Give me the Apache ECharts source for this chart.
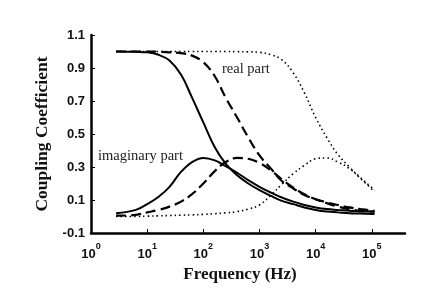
<!DOCTYPE html>
<html>
<head>
<meta charset="utf-8">
<script src="https://cdn.jsdelivr.net/npm/echarts@6/dist/echarts.min.js"></script>
<style>html,body{margin:0;padding:0;background:#fff}#c{width:436px;height:292px}</style>
</head>
<body>
<div id="c"></div>
<script>
// Frequencies (Hz)
var freq = [2.8, 6.3, 10, 16, 25, 40, 63, 100, 160, 250, 400, 630, 1000, 1600, 2500, 4000, 6300, 10000, 16000, 25000, 40000, 63000, 112000];
// Solid pair
var solidReal = [1.0, 0.998, 0.995, 0.98, 0.945, 0.86, 0.72, 0.57, 0.42, 0.32, 0.25, 0.2, 0.16, 0.125, 0.095, 0.075, 0.055, 0.04, 0.03, 0.025, 0.02, 0.018, 0.015];
var solidImag = [0.02, 0.04, 0.075, 0.12, 0.18, 0.27, 0.33, 0.355, 0.34, 0.305, 0.265, 0.22, 0.18, 0.145, 0.115, 0.09, 0.07, 0.055, 0.045, 0.04, 0.035, 0.03, 0.03];
// Dashed pair
var dashedReal = [1.0, 1.0, 1.0, 0.998, 0.995, 0.99, 0.975, 0.935, 0.85, 0.72, 0.6, 0.48, 0.37, 0.29, 0.215, 0.17, 0.13, 0.105, 0.085, 0.07, 0.055, 0.045, 0.035];
var dashedImag = [0.005, 0.01, 0.025, 0.04, 0.06, 0.09, 0.135, 0.2, 0.275, 0.33, 0.355, 0.35, 0.325, 0.28, 0.225, 0.175, 0.135, 0.105, 0.08, 0.06, 0.045, 0.035, 0.03];
// Dotted pair
var dottedReal = [1.0, 1.0, 1.0, 1.0, 1.0, 1.0, 1.0, 1.0, 1.0, 1.0, 0.999, 0.998, 0.995, 0.98, 0.95, 0.87, 0.75, 0.6, 0.475, 0.375, 0.3, 0.235, 0.16];
var dottedImag = [0.0, 0.0, 0.002, 0.004, 0.006, 0.008, 0.01, 0.013, 0.017, 0.022, 0.03, 0.045, 0.07, 0.13, 0.195, 0.26, 0.31, 0.35, 0.355, 0.33, 0.29, 0.23, 0.15];
// Tick values
var xTicks = [1, 10, 100, 1000, 10000, 100000];
var yTicks = [-0.1, 0.1, 0.3, 0.5, 0.7, 0.9, 1.1];

function pairs(ys){ return freq.map(function(f,i){ return [f, ys[i]]; }); }

var chart = echarts.init(document.getElementById('c'), null, {renderer:'canvas'});
var lineSolid = {color:'#000', width:2, type:'solid'};
var lineDashed = {color:'#000', width:2.2, type:[10,5]};
var lineDotted = {color:'#000', width:1.6, type:[1.5,3]};
function mk(name, ys, ls){
  return {name:name, type:'line', data:pairs(ys), smooth:0.4, showSymbol:false, symbol:'none', lineStyle:ls, animation:false, z:3};
}
chart.setOption({
  animation:false,
  grid:{left:91, right:31, top:35, bottom:59},
  xAxis:{
    type:'log', logBase:10, min:1, max:390000,
    name:'Frequency (Hz)', nameLocation:'middle', nameGap:31,
    nameTextStyle:{fontFamily:'Liberation Serif', fontWeight:'bold', fontSize:17, color:'#111', padding:[0,16,0,0]},
    axisLine:{onZero:false, lineStyle:{color:'#000', width:2.5}},
    axisTick:{inside:true, length:4, lineStyle:{color:'#000', width:1}, customValues:xTicks},
    splitLine:{show:false}, minorTick:{show:false}, minorSplitLine:{show:false},
    axisLabel:{
      customValues:xTicks, margin:9, color:'#111',
      formatter:function(v){ var e=Math.round(Math.log10(v)); return '{b|10}{s|'+e+'}'; },
      rich:{
        b:{fontFamily:'Liberation Sans', fontWeight:'bold', fontSize:13, color:'#111', verticalAlign:'bottom', padding:[6,0,0,0]},
        s:{fontFamily:'Liberation Sans', fontWeight:'bold', fontSize:9, color:'#111', verticalAlign:'top', padding:[0,0,6,0]}
      }
    }
  },
  yAxis:{
    type:'value', min:-0.1, max:1.1,
    name:'Coupling Coefficient', nameLocation:'middle', nameGap:37, nameRotate:90,
    nameTextStyle:{fontFamily:'Liberation Serif', fontWeight:'bold', fontSize:17.5, color:'#111'},
    axisLine:{show:true, onZero:false, lineStyle:{color:'#000', width:2.5}},
    axisTick:{show:true, inside:true, length:4, lineStyle:{color:'#000', width:1}, customValues:yTicks},
    splitLine:{show:false},
    axisLabel:{
      customValues:yTicks, margin:6, color:'#111',
      fontFamily:'Liberation Sans', fontWeight:'bold', fontSize:13,
      formatter:function(v){ return (Math.round(v*10)/10).toFixed(1); }
    }
  },
  graphic:[
    {type:'text', left:222, top:62, style:{text:'real part', fontFamily:'Liberation Serif', fontSize:14.5, fill:'#222'}},
    {type:'text', left:98, top:149, style:{text:'imaginary part', fontFamily:'Liberation Serif', fontSize:14.5, fill:'#222'}}
  ],
  series:[
    mk('solid real', solidReal, lineSolid),
    mk('solid imag', solidImag, lineSolid),
    mk('dashed real', dashedReal, lineDashed),
    mk('dashed imag', dashedImag, lineDashed),
    mk('dotted real', dottedReal, lineDotted),
    mk('dotted imag', dottedImag, lineDotted)
  ]
});
</script>
</body>
</html>
